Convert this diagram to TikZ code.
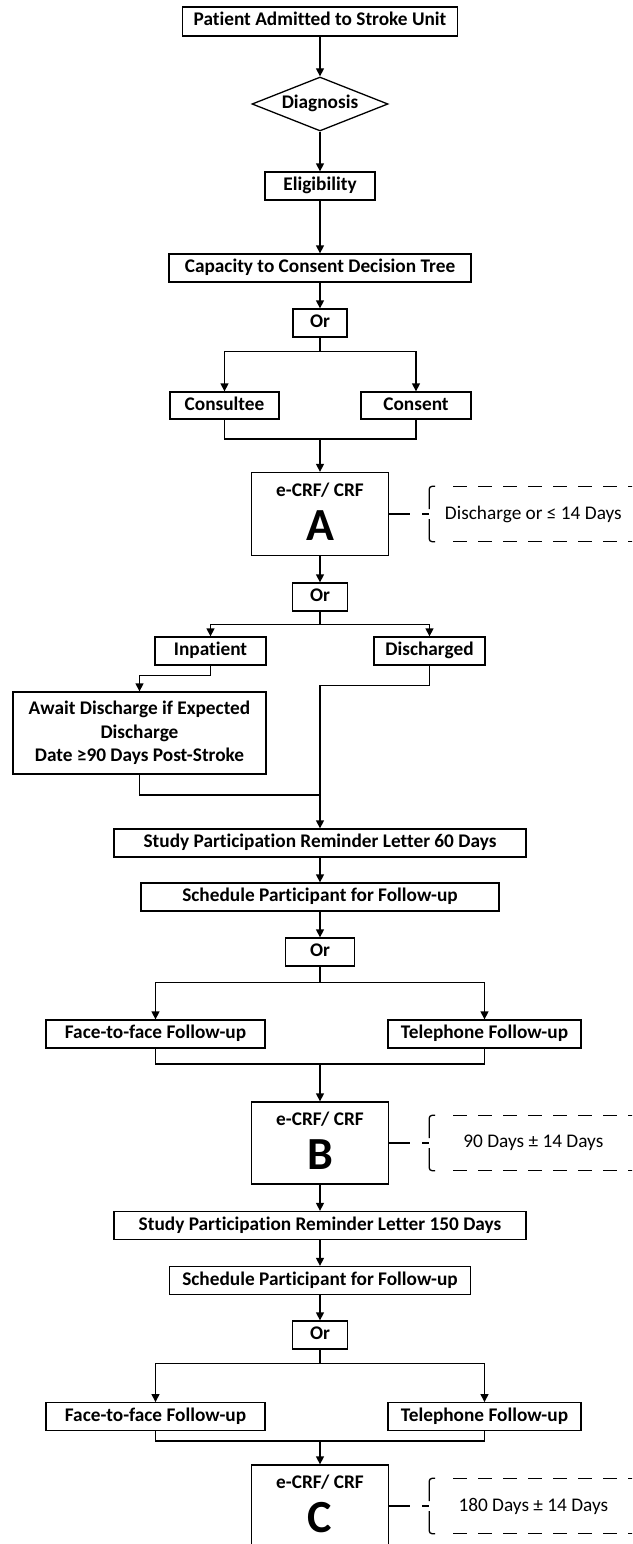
\documentclass[tikz,border=0pt]{standalone}
\usepackage{fontspec}
\setmainfont{Carlito}[Ligatures=NoCommon]
\usetikzlibrary{arrows.meta,positioning,shapes.geometric}
\newcommand{\crfletter}[1]{{\fontsize{46}{46}\selectfont #1}\rule[-5pt]{0pt}{5pt}}

\begin{document}
\begin{tikzpicture}[x=1pt, y=-1pt,
  node distance=40pt,
  box/.style={draw, line width=1.3pt, align=center, inner sep=0pt, minimum height=28pt, text height=13pt, text depth=4pt, font=\fontsize{19.3}{23.5}\selectfont\bfseries},
  multi/.style={text height=, text depth=},
  dec/.style={box, shape=diamond, aspect=2.5, minimum width=136pt, minimum height=54pt},
  crf/.style={box, multi, minimum width=137pt, minimum height=83pt},
  note/.style={inner sep=0pt, minimum width=208pt, minimum height=55pt, font=\fontsize{19.3}{23}\selectfont},
  bracket/.style={line width=1.3pt, dash pattern=on 14pt off 11pt},
  hook/.style={line width=1.3pt, rounded corners=3pt},
  lead/.style={line width=1.3pt, dash pattern=on 21pt off 12pt on 7pt off 20pt},
  arr/.style={-{Triangle[length=8pt, width=8pt]}, line width=1.3pt},
  ln/.style={line width=1.3pt}]
\useasboundingbox (0,0) rectangle (632,1544);
\clip (0,0) rectangle (632,1544);
% admission and consent
\node[box, minimum width=275pt, minimum height=29pt] (adm) at (320,21.5) {Patient Admitted to Stroke Unit};
\node[dec] (diag) at (320,104) {Diagnosis};
\node[box, minimum width=110pt] (elig) at (320,186) {Eligibility};
\node[box, minimum width=302pt] (cap) at (320,268) {Capacity to Consent Decision Tree};
\node[box, minimum width=54pt] (or1) at (320,323) {Or};
\node[box, minimum width=109pt, minimum height=27pt] (cslt) at (224.5,405.5) {Consultee};
\node[box, minimum width=110pt, minimum height=27pt] (cnst) at (416,405.5) {Consent};
\node[crf] (crfA) at (320,514) {e-CRF/ CRF\\[12pt]\crfletter{A}};
\node[note, right=of crfA] (noteA) {Discharge or ≤ 14 Days};
% discharge
\node[box, minimum width=55pt] (or2) at (320,597) {Or};
\node[box, minimum width=111pt] (inpat) at (210.5,651) {Inpatient};
\node[box, minimum width=111pt] (disch) at (429.5,651) {Discharged};
\node[box, multi, minimum width=253pt, minimum height=82pt] (await) at (139.5,733) {Await Discharge if Expected\\Discharge\\Date ≥90 Days Post-Stroke};
% first follow-up
\node[box, minimum width=412pt] (rem60) at (320,843) {Study Participation Reminder Letter 60 Days};
\node[box, minimum width=358pt] (sched1) at (320,897) {Schedule Participant for Follow-up};
\node[box, minimum width=69pt] (or3) at (320,952) {Or};
\node[box, minimum width=219pt] (f2f1) at (155.5,1034) {Face-to-face Follow-up};
\node[box, minimum width=193pt] (tel1) at (484.5,1034) {Telephone Follow-up};
\node[crf, minimum height=82pt] (crfB) at (320,1143) {e-CRF/ CRF\\[12pt]\crfletter{B}};
\node[note, right=of crfB] (noteB) {90 Days ± 14 Days};
% second follow-up
\node[box, minimum width=412pt] (rem150) at (320,1225.5) {Study Participation Reminder Letter 150 Days};
\node[box, minimum width=301pt] (sched2) at (320,1280.5) {Schedule Participant for Follow-up};
\node[box, minimum width=55pt] (or4) at (320,1335) {Or};
\node[box, minimum width=219pt] (f2f2) at (155.5,1416.7) {Face-to-face Follow-up};
\node[box, minimum width=193pt] (tel2) at (484.5,1416.7) {Telephone Follow-up};
\node[crf, minimum height=82pt] (crfC) at (320,1506) {e-CRF/ CRF\\[12pt]\crfletter{C}};
\node[note, right=of crfC] (noteC) {180 Days ± 14 Days};
% connectors
\foreach \a/\b in {adm/diag,diag/elig,elig/cap,cap/or1,crfA/or2,rem60/sched1,sched1/or3,crfB/rem150,rem150/sched2,sched2/or4}
  \draw[arr] (\a) -- (\b);
\foreach \o/\l/\r/\d in {or1/cslt/cnst/14,or2/inpat/disch/13,or3/f2f1/tel1/16,or4/f2f2/tel2/14} {
  \draw[arr] (\o.south) -- ++(0,\d) -| (\l.north);
  \draw[arr] (\o.south) -- ++(0,\d) -| (\r.north);
}
\foreach \l/\r/\c/\y in {cslt/cnst/crfA/439,f2f1/tel1/crfB/1064,f2f2/tel2/crfC/1441} {
  \coordinate (\c-in) at (320,\y);
  \draw[ln] (\l.south) |- (\c-in) -| (\r.south);
  \draw[arr] (\c-in) -- (\c.north);
}
\draw[arr] (inpat.south) -- ++(0,10) -| (await.north);
\coordinate (join) at (320,795);
\draw[ln] (await.south) |- (join);
\draw[ln] (disch.south) -- ++(0,20) -| (join);
\draw[arr] (join) -- (rem60.north);
% time windows
\foreach \c/\n in {crfA/noteA,crfB/noteB,crfC/noteC} {
  \draw[lead] (\c.east) -- (\n.west);
  \draw[hook] ([xshift=6pt]\n.north west) -- (\n.north west) -- ([yshift=5pt]\n.west);
  \draw[hook] ([xshift=6pt]\n.south west) -- (\n.south west) -- ([yshift=-5pt]\n.west);
  \draw[bracket] ([xshift=24pt]\n.north west) -- (\n.north east);
  \draw[bracket] ([xshift=24pt]\n.south west) -- (\n.south east);
}
\end{tikzpicture}
\end{document}
